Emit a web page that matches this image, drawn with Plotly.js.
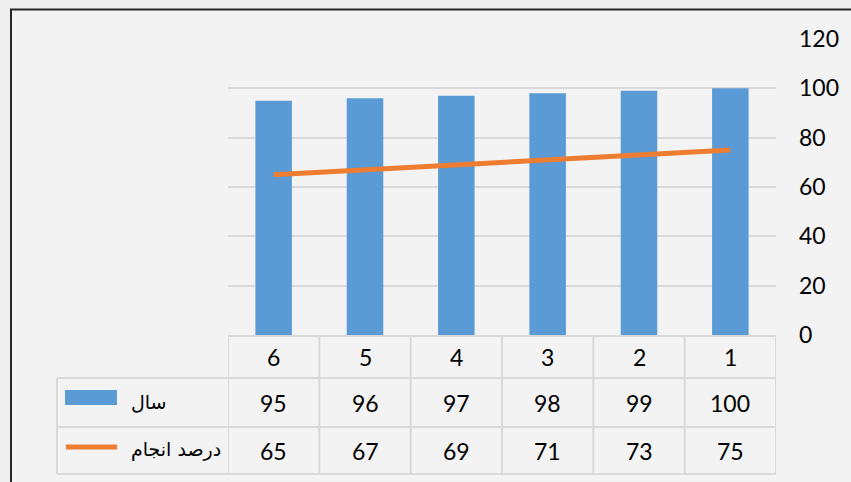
<!DOCTYPE html>
<html>
<head>
<meta charset="utf-8">
<script src="https://cdn.plot.ly/plotly-3.0.1.min.js"></script>
<style>html,body{margin:0;padding:0;background:#eeeeee;}</style>
</head>
<body>
<div id="chart" style="width:851px;height:482px;"></div>
<script>
// ---- data ----
const categories = ['1', '2', '3', '4', '5', '6'];
const seriesYearName = 'سال';
const seriesYear = [100, 99, 98, 97, 96, 95];
const seriesPercentName = 'درصد انجام';
const seriesPercent = [75, 73, 71, 69, 67, 65];
const yTicks = [0, 20, 40, 60, 80, 100, 120];

// ---- geometry helpers (pixel -> paper) ----
const L = 228, R = 776, T = 39, B = 335;
const px = x => (x - L) / (R - L);
const py = y => (B - y) / (B - T);

const BLUE = '#5B9BD5', ORANGE = '#ED7D31', GRID = '#d9d9d9';
const FONT = 'Lato, "DejaVu Sans", sans-serif';
const AFONT = '"DejaVu Sans", Lato, sans-serif';

const traces = [
  {type: 'bar', x: categories, y: seriesYear, name: seriesYearName,
   marker: {color: BLUE}, hoverinfo: 'skip'},
  {type: 'scatter', mode: 'lines', x: categories, y: seriesPercent, name: seriesPercentName,
   line: {color: ORANGE, width: 5}, hoverinfo: 'skip'}
];

const shapes = [];
// chart frame + background
shapes.push({type: 'rect', xref: 'paper', yref: 'paper', layer: 'below',
  x0: px(11), x1: px(900), y0: py(520), y1: py(9.5),
  fillcolor: '#f3f3f3', line: {color: '#262626', width: 2}});

const tableLine = {color: GRID, width: 2};
// horizontal table lines
const rowTop = 336, row2 = 378, row3 = 427, rowBot = 474;
shapes.push({type: 'line', xref: 'paper', yref: 'paper', x0: 0, x1: 1, y0: py(rowTop), y1: py(rowTop), line: tableLine});
[row2, row3, rowBot].forEach(y => shapes.push({type: 'line', xref: 'paper', yref: 'paper',
  x0: px(57), x1: 1, y0: py(y), y1: py(y), line: tableLine}));
// vertical table lines at category boundaries
for (let i = 0; i <= categories.length; i++) {
  shapes.push({type: 'line', xref: 'x', yref: 'paper', x0: i - 0.5, x1: i - 0.5,
    y0: py(rowTop), y1: py(rowBot), line: tableLine});
}
shapes.push({type: 'line', xref: 'paper', yref: 'paper', x0: px(57), x1: px(57),
  y0: py(row2), y1: py(rowBot), line: tableLine});
// legend keys
shapes.push({type: 'rect', xref: 'paper', yref: 'paper', x0: px(65), x1: px(117),
  y0: py(405), y1: py(390), fillcolor: BLUE, line: {width: 0}});
shapes.push({type: 'line', xref: 'paper', yref: 'paper', x0: px(66), x1: px(117),
  y0: py(447), y1: py(447), line: {color: ORANGE, width: 5}});

const annotations = [];
const cellFont = {family: FONT, size: 23, color: '#000'};
categories.forEach((c, i) => {
  annotations.push({xref: 'x', yref: 'paper', x: i, y: py((rowTop + row2) / 2), text: c,
    showarrow: false, font: cellFont, xanchor: 'center', yanchor: 'middle'});
  annotations.push({xref: 'x', yref: 'paper', x: i, y: py((row2 + row3) / 2), text: String(seriesYear[i]),
    showarrow: false, font: cellFont, xanchor: 'center', yanchor: 'middle'});
  annotations.push({xref: 'x', yref: 'paper', x: i, y: py((row3 + rowBot) / 2), text: String(seriesPercent[i]),
    showarrow: false, font: cellFont, xanchor: 'center', yanchor: 'middle'});
});
annotations.push({xref: 'paper', yref: 'paper', x: px(129), y: py(402), text: seriesYearName,
  showarrow: false, font: {family: AFONT, size: 19, color: '#000'}, xanchor: 'left', yanchor: 'middle'});
annotations.push({xref: 'paper', yref: 'paper', x: px(129), y: py(449), text: seriesPercentName,
  showarrow: false, font: {family: AFONT, size: 19, color: '#000'}, xanchor: 'left', yanchor: 'middle'});

const layout = {
  width: 851, height: 482,
  margin: {l: L, r: 851 - R, t: T, b: 482 - B, pad: 0},
  paper_bgcolor: '#eeeeee', plot_bgcolor: 'rgba(0,0,0,0)',
  showlegend: false,
  bargap: 0.6,
  font: {family: FONT, color: '#000'},
  xaxis: {type: 'category', categoryorder: 'array', categoryarray: categories,
    range: [categories.length - 0.5, -0.5], autorange: false,
    showticklabels: false, showgrid: false, zeroline: false,
    showline: false, ticks: ''},
  yaxis: {side: 'right', range: [0, 120], autorange: false, tickvals: yTicks, ticktext: yTicks.map(String),
    showgrid: true, gridcolor: GRID, gridwidth: 2, zeroline: false, showline: false,
    ticks: '', ticklabelstandoff: 22, tickfont: {family: FONT, size: 23, color: '#000'}},
  shapes: shapes,
  annotations: annotations
};

Plotly.newPlot('chart', traces, layout, {staticPlot: true, displayModeBar: false});
</script>
</body>
</html>
